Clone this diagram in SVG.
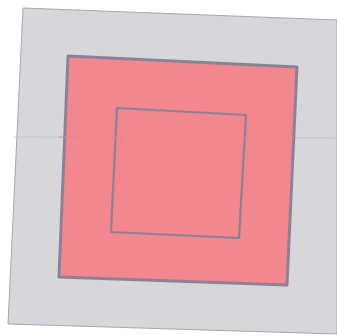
<svg xmlns="http://www.w3.org/2000/svg" width="337" height="336" viewBox="0 0 337 336">
<style>
.sq{stroke:#8c8298;stroke-linejoin:round;}
</style>
<rect x="0" y="0" width="337" height="336" fill="#ffffff"/>
<g id="background">
<polygon points="23,8 337,20 337,334 8,324" fill="#d5d7db" stroke="#a8a8ae" stroke-width="1"/>
<line x1="14" y1="137" x2="337" y2="138" stroke="#c4c4c8" stroke-width="1"/>
</g>
<g id="outer">
<polygon class="sq" points="68,56 297,67 287,285 59,277" fill="#f2878f" stroke-width="3"/>
</g>
<g id="inner">
<polygon class="sq" points="117,108 246,115 239,238 111,232" fill="#f2878f" stroke-width="2.2"/>
</g>
<line x1="59" y1="137" x2="296" y2="138" stroke="#e9848c" stroke-width="1" opacity="0.8"/>
</svg>
